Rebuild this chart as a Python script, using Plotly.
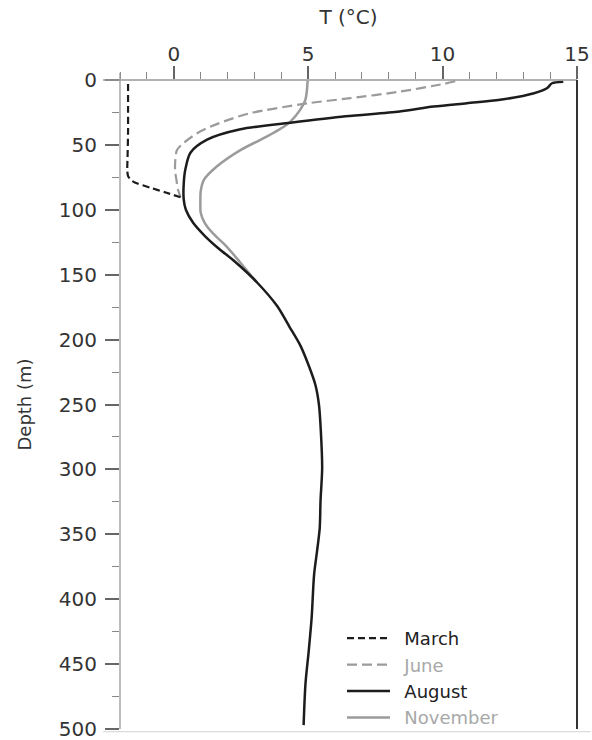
import plotly.graph_objects as go

# Temperature profiles (depth in m, temperature in °C)
march_depth = [3, 20, 40, 60, 70, 74, 77, 79, 83, 86.7, 90.7]
march_temp = [-1.7, -1.7, -1.7, -1.72, -1.73, -1.7, -1.6, -1.45, -0.87, -0.3, 0.31]

june_depth = [1, 3, 9, 14, 18, 25.5, 30.7, 36, 41, 48.5, 54, 61, 70, 77, 84, 90]
june_temp = [10.47, 10.04, 8.4, 6.57, 4.96, 2.85, 2.03, 1.36, 0.87, 0.37, 0.12, 0.06, 0.05, 0.1, 0.15, 0.25]

august_depth = [1.3, 2.5, 6.4, 10.2, 15.3, 17.9, 20.5, 24.3, 28, 33, 38, 46, 56, 69, 80, 92,
                100, 110, 120, 130, 140, 156, 174, 190, 205, 220, 235, 250, 270, 299, 324,
                345, 363, 381, 414, 440, 465, 497]
august_temp = [14.49, 14.07, 13.88, 13.4, 12.14, 10.9, 9.66, 8.4, 6.39, 4.34, 2.48, 1.24, 0.62,
               0.43, 0.37, 0.37, 0.45, 0.72, 1.15, 1.68, 2.28, 3.1, 3.84, 4.3, 4.72, 5.02, 5.27,
               5.4, 5.47, 5.52, 5.46, 5.43, 5.33, 5.22, 5.13, 5.02, 4.9, 4.83]

november_depth = [0.5, 15, 23, 32, 37.6, 43.5, 54, 66.5, 77, 86, 94.5, 102, 110, 118, 128, 140, 150, 156]
november_temp = [4.98, 4.9, 4.7, 4.34, 3.97, 3.47, 2.48, 1.61, 1.12, 1.0, 0.99, 1.0, 1.15, 1.45, 1.95, 2.45, 2.85, 3.1]

x_ticks = [0, 5, 10, 15]
y_ticks = [0, 50, 100, 150, 200, 250, 300, 350, 400, 450, 500]

DARK = "#1c1c1c"
GREY = "#9b9b9b"
FONT = "DejaVu Sans"
GAP = "\u00a0\u2009"  # small gap between legend line and label

W, H = 592, 740
M_L, M_R, M_T = 120, 15, 80
PAPER_H = H - M_T          # bottom margin is zero; the axis domain leaves room below
Y_BOTTOM_GAP = 11          # px between the 500 m level and the page bottom

fig = go.Figure()

# drawing order: November and June underneath, August and March on top
fig.add_trace(go.Scatter(
    x=november_temp, y=november_depth, mode="lines", legendrank=4, legendgroup="nov",
    name=GAP + "<span style='color:#a8a8a8'>November</span>",
    line=dict(color=GREY, width=2.5, shape="spline", smoothing=0.8)))
fig.add_trace(go.Scatter(
    x=june_temp, y=june_depth, mode="lines", legendrank=2, legendgroup="jun",
    name=GAP + "<span style='color:#a8a8a8'>June</span>",
    line=dict(color=GREY, width=2.2, dash="10px,5px", shape="spline", smoothing=0.8)))
fig.add_trace(go.Scatter(
    x=august_temp, y=august_depth, mode="lines", legendrank=3, legendgroup="aug",
    name=GAP + "<span style='color:#222'>August</span>",
    line=dict(color=DARK, width=2.5, shape="spline", smoothing=0.8)))
fig.add_trace(go.Scatter(
    x=march_temp, y=march_depth, mode="lines", legendrank=1, legendgroup="mar",
    name=GAP + "<span style='color:#222'>March</span>",
    line=dict(color=DARK, width=2.2, dash="7px,4px", shape="spline", smoothing=0.6)))

fig.update_xaxes(
    side="top", range=[-2, 15], tickvals=x_ticks, ticks="outside", ticklen=13,
    tickwidth=1.5, tickcolor="#666", showline=False, showgrid=False, zeroline=False,
    automargin=False, ticklabelstandoff=-3, ticklabeloverflow="allow",
    minor=dict(dtick=1, tick0=0, ticks="outside", ticklen=7, tickwidth=1.2,
               tickcolor="#888", showgrid=False),
    tickfont=dict(family=FONT, size=20, color="#333"),
    title=dict(text="T (°C)", standoff=12, font=dict(family=FONT, size=20, color="#333")),
)
fig.update_yaxes(
    range=[500, 0], domain=[Y_BOTTOM_GAP / PAPER_H, 1],
    tickvals=y_ticks, ticks="outside", ticklen=14, tickwidth=1.5,
    tickcolor="#666", showline=False, showgrid=False, zeroline=False,
    automargin=False, ticklabelstandoff=4, ticklabeloverflow="allow",
    minor=dict(dtick=25, tick0=0, ticks="outside", ticklen=7, tickwidth=1.2,
               tickcolor="#888", showgrid=False),
    tickfont=dict(family=FONT, size=20, color="#333"),
    title=dict(text="Depth (m)", standoff=22, font=dict(family=FONT, size=18, color="#333")),
)

# frame lines, relative to the axis domains
shapes = [
    dict(type="line", xref="x domain", yref="y domain", x0=-0.037, x1=1, y0=1, y1=1,
         line=dict(color="#999", width=1.3)),
    dict(type="line", xref="x domain", yref="y domain", x0=0, x1=0, y0=0, y1=1.011,
         line=dict(color="#999", width=1.3)),
    dict(type="line", xref="x domain", yref="y domain", x0=1, x1=1, y0=0, y1=1,
         line=dict(color="#333", width=2)),
    dict(type="line", xref="x domain", yref="y domain", x0=-0.037, x1=1.03, y0=-0.004, y1=-0.004,
         line=dict(color="#dcdcdc", width=1.2)),
]

fig.update_layout(
    template="none",
    width=W, height=H, autosize=False,
    margin=dict(l=M_L, r=M_R, t=M_T, b=0, pad=0),
    paper_bgcolor="white", plot_bgcolor="white",
    shapes=shapes,
    showlegend=True,
    legend=dict(
        x=(342 - M_L) / (W - M_L - M_R), y=4 / PAPER_H, xanchor="left", yanchor="bottom",
        traceorder="grouped", tracegroupgap=0, itemwidth=43,
        font=dict(family=FONT, size=18, color="#222"),
        bgcolor="rgba(0,0,0,0)", borderwidth=0,
    ),
)

fig.write_html("out.html", config={"responsive": False},
               post_script="document.documentElement.style.overflow='hidden';"
                           "document.body.style.overflow='hidden';")
